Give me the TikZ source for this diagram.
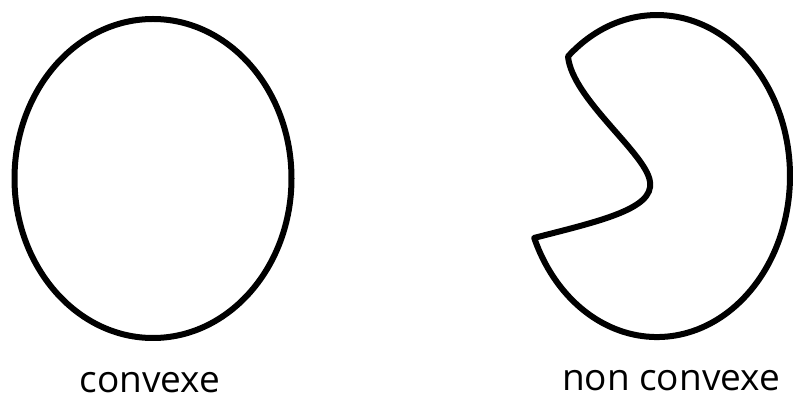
\documentclass[tikz,border=0pt]{standalone}
\usepackage{fontspec}
\setmainfont{Open Sans}
\begin{document}
\begin{tikzpicture}[x=1pt,y=1pt,
  outline/.style={line width=6pt, line join=round, black},
  lbl/.style={anchor=base, inner sep=0pt, font=\fontsize{37}{42}\selectfont}]
\useasboundingbox (0,0) rectangle (793,399);
% convex ellipse
\draw[outline] (153,220.5) ellipse [x radius=138.5, y radius=159.5];
% non convex shape
\draw[outline] (568,342.6) arc[start angle=132, end angle=-157.4, x radius=133, y radius=161]
  .. controls (600,178) and (654,190) .. (650,217)
  .. controls (647,245) and (572,300) .. cycle;
\node[lbl] (a) at (150,6) {convexe};
\node[lbl] (b) at (671,8) {non convexe};
\end{tikzpicture}
\end{document}
